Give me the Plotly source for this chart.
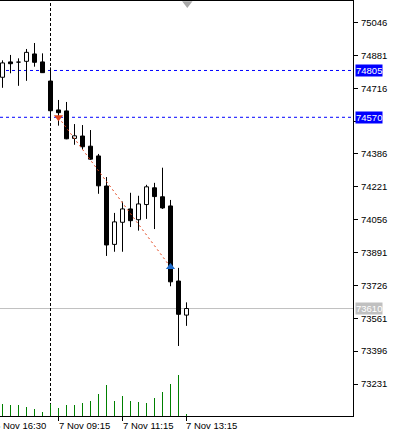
import plotly.graph_objects as go

# ---- data (15-minute candles) ----
opens  = [74771, 74848, 74850, 74851, 74888, 74848, 74752, 74607, 74602, 74464, 74476, 74425,
          74376, 74225, 73932, 74043, 74110, 74056, 74132, 74216, 74171, 74125, 73748, 73577]
highs  = [74856, 74883, 74866, 74913, 74943, 74891, 74820, 74657, 74647, 74536, 74531, 74506,
          74386, 74270, 74090, 74147, 74191, 74176, 74231, 74241, 74317, 74155, 73814, 73641]
lows   = [74718, 74791, 74728, 74753, 74824, 74794, 74565, 74528, 74460, 74432, 74409, 74357,
          74186, 73874, 73895, 73895, 74019, 74001, 74060, 74009, 74110, 73722, 73422, 73523]
closes = [74843, 74839, 74847, 74896, 74846, 74794, 74603, 74593, 74462, 74477, 74422, 74360,
          74226, 73929, 74045, 74110, 74051, 74135, 74221, 74172, 74115, 73744, 73581, 73610]
volumes = [1200, 1100, 1100, 900, 700, 400, 1200, 800, 1100, 1100, 1300, 1500,
           2200, 3100, 1500, 2000, 1500, 1400, 1300, 1800, 2400, 3200, 4100, 200]

x_label_pos = [-1, 7, 15, 23]
x_label_text = ["6 Nov 16:30", "7 Nov 09:15", "7 Nov 11:15", "7 Nov 13:15"]

y_tick_vals = [75046, 74881, 74716, 74551, 74386, 74221, 74056, 73891, 73726, 73561, 73396, 73231]

level_stop = 74805
level_entry = 74570
last_price = 73610
day_sep_index = 6

trade_open_index, trade_open_price = 7, 74570
trade_close_index, trade_close_price = 21, 73818

Y_RANGE = [73070.5, 75153.8]
X_RANGE = [-0.3125, 43.8125]
VOL_RANGE = [0, 41500]

FONT = "Liberation Sans, Arial, sans-serif"
HALF = 0.25

n = len(opens)
xs = list(range(n))

fig = go.Figure()

# volumes as thin green lines
vx, vy = [], []
for i, v in enumerate(volumes):
    vx += [i, i, None]
    vy += [0, v, None]
fig.add_trace(go.Scatter(x=vx, y=vy, mode="lines", yaxis="y2",
                         line=dict(color="#008000", width=1), hoverinfo="skip", showlegend=False))

# wicks
wx, wy = [], []
for i in xs:
    wx += [i, i, None]
    wy += [lows[i], highs[i], None]
fig.add_trace(go.Scatter(x=wx, y=wy, mode="lines", line=dict(color="black", width=1),
                         hoverinfo="skip", showlegend=False))

# bodies
def bodies(up):
    bx, by = [], []
    for i in xs:
        o, c = opens[i], closes[i]
        if (c > o) != up:
            continue
        lo, hi = min(o, c), max(o, c)
        bx += [i - HALF, i + HALF, i + HALF, i - HALF, i - HALF, None]
        by += [lo, lo, hi, hi, lo, None]
    return bx, by

bx, by = bodies(False)
fig.add_trace(go.Scatter(x=bx, y=by, mode="lines", fill="toself", fillcolor="black",
                         line=dict(color="black", width=1), hoverinfo="skip", showlegend=False))
bx, by = bodies(True)
fig.add_trace(go.Scatter(x=bx, y=by, mode="lines", fill="toself", fillcolor="white",
                         line=dict(color="black", width=1), hoverinfo="skip", showlegend=False))

# trade line and arrows
fig.add_trace(go.Scatter(x=[trade_open_index, trade_close_index],
                         y=[trade_open_price, trade_close_price], mode="lines",
                         line=dict(color="#E4461E", width=1, dash="2px,3px"),
                         hoverinfo="skip", showlegend=False))
fig.add_trace(go.Scatter(x=[trade_open_index], y=[trade_open_price], mode="markers",
                         marker=dict(symbol="triangle-down", size=8, color="#E4461E"),
                         hoverinfo="skip", showlegend=False))
fig.add_trace(go.Scatter(x=[trade_close_index], y=[trade_close_price], mode="markers",
                         marker=dict(symbol="triangle-up", size=8, color="#1E6CCC"),
                         hoverinfo="skip", showlegend=False))

# chart-shift marker at top
fig.add_trace(go.Scatter(x=[n - 1 + 0.1], y=[Y_RANGE[1] - 12], mode="markers",
                         marker=dict(symbol="triangle-down", size=9, color="#A8A8A8"),
                         cliponaxis=False, hoverinfo="skip", showlegend=False))

shapes = [
    dict(type="line", xref="paper", x0=0, x1=1, yref="y", y0=level_stop, y1=level_stop,
         line=dict(color="#0000FF", width=1, dash="3px,3px"), layer="below"),
    dict(type="line", xref="paper", x0=0, x1=1, yref="y", y0=level_entry, y1=level_entry,
         line=dict(color="#0000FF", width=1, dash="3px,3px"), layer="below"),
    dict(type="line", xref="paper", x0=0, x1=1, yref="y", y0=last_price, y1=last_price,
         line=dict(color="#C0C0C0", width=1), layer="below"),
    dict(type="line", xref="x", x0=day_sep_index, x1=day_sep_index, yref="paper", y0=0, y1=1,
         line=dict(color="black", width=1, dash="3px,2px"), layer="below"),
]

span = X_RANGE[1] - X_RANGE[0]
annotations = []
for pos, txt in zip(x_label_pos, x_label_text):
    annotations.append(dict(x=(pos - X_RANGE[0]) / span, xref="paper", y=0, yref="paper",
                            text=txt, showarrow=False,
                            xanchor="left", yanchor="top", yshift=-2, xshift=-2,
                            font=dict(family=FONT, size=9.5, color="black")))
for val, bg in [(level_stop, "#0000FF"), (level_entry, "#0000FF"), (last_price, "#C0C0C0")]:
    annotations.append(dict(x=1, xref="paper", y=val, yref="y", text=str(val), showarrow=False,
                            xanchor="left", yanchor="middle", xshift=2, bgcolor=bg, borderpad=0,
                            font=dict(family=FONT, size=9.5, color="white")))

# the 74551 label sits behind the entry-level box in the reference
tick_text = ["" if abs(v - level_entry) < 25 else str(v) for v in y_tick_vals]

fig.update_layout(
    width=396, height=447,
    margin=dict(l=0, r=43, t=1, b=31),
    paper_bgcolor="white", plot_bgcolor="white",
    showlegend=False,
    font=dict(family=FONT, size=9.5, color="black"),
    xaxis=dict(range=X_RANGE, showgrid=False, zeroline=False, showline=True, linecolor="black",
               linewidth=1, mirror=True, ticks="outside", ticklen=4, tickcolor="black",
               tickvals=x_label_pos, showticklabels=False, fixedrange=True),
    yaxis=dict(range=Y_RANGE, side="right", showgrid=False, zeroline=False, showline=True,
               linecolor="black", linewidth=1, ticks="outside", ticklen=4, tickcolor="black",
               tickvals=y_tick_vals, ticktext=tick_text,
               ticklabelstandoff=1, tickfont=dict(family=FONT, size=9.5, color="black"),
               fixedrange=True),
    yaxis2=dict(range=VOL_RANGE, overlaying="y", side="left", visible=False, fixedrange=True),
    shapes=shapes,
    annotations=annotations,
)

fig.write_html("out.html")
